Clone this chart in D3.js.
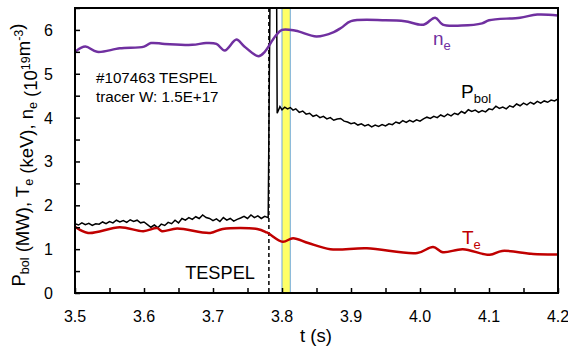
<!DOCTYPE html>
<html>
<head>
<meta charset="utf-8">
<script src="https://cdn.jsdelivr.net/npm/d3@7"></script>
<style>
  body { margin: 0; background: #fff; }
  svg { display: block; font-family: "Liberation Sans", Arial, sans-serif; }
</style>
</head>
<body>
<div class="d3"><svg></svg></div>
<script>
// axis ranges and ticks
var xDomain = [3.5, 4.2];
var yDomain = [0, 6.5];
var xTicks = [3.5, 3.6, 3.7, 3.8, 3.9, 4.0, 4.1, 4.2];
var yTicks = [0, 1, 2, 3, 4, 5, 6];

// TESPEL injection time and analysis window
var tespelTime = 3.781;
var bandRange = [3.800, 3.812];

// electron density n_e (10^19 m^-3)
var neTime = [3.500, 3.515, 3.532, 3.565, 3.600, 3.610, 3.630, 3.670, 3.690, 3.705, 3.717, 3.734, 3.745, 3.766, 3.775, 3.790, 3.800, 3.820, 3.850, 3.875, 3.886, 3.900, 3.950, 3.978, 4.005, 4.022, 4.033, 4.060, 4.090, 4.100, 4.145, 4.170, 4.200];
var neValue = [5.50, 5.62, 5.50, 5.58, 5.62, 5.70, 5.68, 5.66, 5.70, 5.68, 5.53, 5.78, 5.63, 5.40, 5.50, 5.85, 6.00, 5.98, 5.85, 5.95, 6.05, 6.20, 6.22, 6.20, 6.12, 6.28, 6.12, 6.10, 6.15, 6.22, 6.28, 6.35, 6.33];

// electron temperature T_e (keV)
var teTime = [3.500, 3.519, 3.565, 3.599, 3.619, 3.626, 3.648, 3.696, 3.714, 3.764, 3.778, 3.801, 3.816, 3.838, 3.870, 3.923, 3.996, 4.019, 4.033, 4.062, 4.101, 4.119, 4.164, 4.200];
var teValue = [1.51, 1.37, 1.50, 1.41, 1.48, 1.41, 1.47, 1.37, 1.46, 1.46, 1.38, 1.17, 1.25, 1.14, 1.00, 1.02, 0.91, 1.05, 0.93, 1.00, 0.87, 0.96, 0.89, 0.88];

// bolometer power P_bol (MW)
var pbolTime = [
  3.500, 3.505, 3.510, 3.515, 3.520, 3.525, 3.530, 3.535, 3.540, 3.545,
  3.550, 3.555, 3.560, 3.565, 3.570, 3.575, 3.580, 3.585, 3.590, 3.595,
  3.600, 3.605, 3.610, 3.615, 3.620, 3.625, 3.630, 3.635, 3.640, 3.645,
  3.650, 3.655, 3.660, 3.665, 3.670, 3.675, 3.680, 3.685, 3.690, 3.695,
  3.700, 3.705, 3.710, 3.715, 3.720, 3.725, 3.730, 3.735, 3.740, 3.745,
  3.750, 3.755, 3.760, 3.765, 3.770, 3.775, 3.780, 3.783, 3.792, 3.793,
  3.797, 3.800, 3.804, 3.808, 3.812, 3.816, 3.820, 3.825, 3.830, 3.835,
  3.840, 3.845, 3.850, 3.855, 3.860, 3.865, 3.870, 3.875, 3.880, 3.885,
  3.890, 3.895, 3.900, 3.905, 3.910, 3.915, 3.920, 3.925, 3.930, 3.935,
  3.940, 3.945, 3.950, 3.955, 3.960, 3.965, 3.970, 3.975, 3.980, 3.985,
  3.990, 3.995, 4.000, 4.005, 4.010, 4.015, 4.020, 4.025, 4.030, 4.035,
  4.040, 4.045, 4.050, 4.055, 4.060, 4.065, 4.070, 4.075, 4.080, 4.085,
  4.090, 4.095, 4.100, 4.105, 4.110, 4.115, 4.120, 4.125, 4.130, 4.135,
  4.140, 4.145, 4.150, 4.155, 4.160, 4.165, 4.170, 4.175, 4.180, 4.185,
  4.190, 4.195, 4.200];
var pbolValue = [
  1.58, 1.55, 1.60, 1.56, 1.59, 1.54, 1.58, 1.57, 1.62, 1.58,
  1.63, 1.60, 1.66, 1.62, 1.65, 1.61, 1.67, 1.63, 1.66, 1.60,
  1.62, 1.56, 1.50, 1.55, 1.49, 1.57, 1.54, 1.61, 1.58, 1.66,
  1.60, 1.70, 1.66, 1.72, 1.68, 1.74, 1.70, 1.78, 1.72, 1.70,
  1.65, 1.69, 1.63, 1.72, 1.66, 1.70, 1.64, 1.68, 1.71, 1.75,
  1.70, 1.78, 1.72, 1.76, 1.70, 1.75, 1.72, 7.50, 7.50, 4.10,
  4.25, 4.18, 4.24, 4.20, 4.23, 4.17, 4.20, 4.12, 4.15, 4.08,
  4.10, 4.03, 4.06, 4.00, 4.03, 3.97, 4.00, 3.94, 3.97, 3.98,
  3.92, 3.90, 3.86, 3.88, 3.83, 3.86, 3.81, 3.84, 3.79, 3.83,
  3.80, 3.84, 3.81, 3.86, 3.84, 3.90, 3.87, 3.93, 3.89, 3.94,
  3.90, 3.95, 3.92, 3.97, 4.01, 3.98, 4.03, 4.00, 4.06, 4.02,
  4.08, 4.04, 4.10, 4.07, 4.14, 4.10, 4.18, 4.14, 4.17, 4.12,
  4.16, 4.13, 4.20, 4.18, 4.26, 4.21, 4.24, 4.20, 4.27, 4.24,
  4.31, 4.27, 4.33, 4.29, 4.35, 4.31, 4.37, 4.33, 4.38, 4.35,
  4.40, 4.38, 4.43];

var width = 568, height = 351;
var margin = { top: 8, right: 10, bottom: 58, left: 75 };
var w = width - margin.left - margin.right;
var h = height - margin.top - margin.bottom;

var svg = d3.select("svg")
    .attr("width", width)
    .attr("height", height);

svg.append("rect").attr("width", width).attr("height", height).attr("fill", "#fff");

var g = svg.append("g")
    .attr("transform", "translate(" + margin.left + "," + margin.top + ")");

var x = d3.scaleLinear().domain(xDomain).range([0, w]);
var y = d3.scaleLinear().domain(yDomain).range([h, 0]);

g.append("clipPath").attr("id", "plot-clip")
    .append("rect").attr("width", w).attr("height", h);

var plot = g.append("g").attr("clip-path", "url(#plot-clip)");

// yellow analysis window
plot.append("rect")
    .attr("x", x(bandRange[0]))
    .attr("width", x(bandRange[1]) - x(bandRange[0]))
    .attr("y", 0)
    .attr("height", h)
    .attr("fill", "#ffff66")
    .attr("stroke", "#6fa8dc")
    .attr("stroke-width", 1);

// TESPEL injection marker
plot.append("line")
    .attr("x1", x(tespelTime)).attr("x2", x(tespelTime))
    .attr("y1", 0).attr("y2", h)
    .attr("stroke", "#000")
    .attr("stroke-width", 1.5)
    .attr("stroke-dasharray", "4,3");

function series(ts, vs) {
    return ts.map(function (t, i) { return [t, vs[i]]; });
}

var smooth = d3.line()
    .x(function (d) { return x(d[0]); })
    .y(function (d) { return y(d[1]); })
    .curve(d3.curveCatmullRom.alpha(0.5));

var jagged = d3.line()
    .x(function (d) { return x(d[0]); })
    .y(function (d) { return y(d[1]); });

plot.append("path")
    .datum(series(pbolTime, pbolValue))
    .attr("d", jagged)
    .attr("fill", "none")
    .attr("stroke", "#000")
    .attr("stroke-width", 1.5);

plot.append("path")
    .datum(series(teTime, teValue))
    .attr("d", smooth)
    .attr("fill", "none")
    .attr("stroke", "#c00000")
    .attr("stroke-width", 2.5);

plot.append("path")
    .datum(series(neTime, neValue))
    .attr("d", smooth)
    .attr("fill", "none")
    .attr("stroke", "#7030a0")
    .attr("stroke-width", 2.5);

// axes with inward ticks
var xAxis = g.append("g")
    .attr("transform", "translate(0," + h + ")")
    .call(d3.axisBottom(x).tickValues(d3.range(3.5, 4.2001, 0.05)).tickSize(-5).tickFormat(""));
xAxis.selectAll(".tick line").attr("stroke-width", 1.5);

var yAxis = g.append("g")
    .call(d3.axisLeft(y).tickValues(d3.range(0, 6.5001, 0.5)).tickSize(-5).tickFormat(""));
yAxis.selectAll(".tick line").attr("stroke-width", 1.5);
g.selectAll(".domain").remove();

// frame
g.append("rect")
    .attr("width", w).attr("height", h)
    .attr("fill", "none")
    .attr("stroke", "#000")
    .attr("stroke-width", 2);

// tick labels
g.selectAll(".xlab").data(xTicks).enter().append("text")
    .attr("x", function (d) { return x(d); })
    .attr("y", h + 29)
    .attr("text-anchor", "middle")
    .attr("font-size", 16)
    .text(function (d) { return d.toFixed(1); });

g.selectAll(".ylab").data(yTicks).enter().append("text")
    .attr("x", -22)
    .attr("y", function (d) { return y(d) + 6; })
    .attr("text-anchor", "end")
    .attr("font-size", 16)
    .text(function (d) { return d; });

// axis titles
svg.append("text")
    .attr("x", 316).attr("y", 342)
    .attr("text-anchor", "middle")
    .attr("font-size", 18.5)
    .text("t (s)");

var yt = svg.append("text")
    .attr("transform", "translate(25,155) rotate(-90)")
    .attr("text-anchor", "middle")
    .attr("font-size", 18.5);
function sub(el, txt) { el.append("tspan").attr("font-size", 12.5).attr("dy", 4).text(txt); el.append("tspan").attr("dy", -4).text(""); }
function sup(el, txt) { el.append("tspan").attr("font-size", 12.5).attr("dy", -7).text(txt); el.append("tspan").attr("dy", 7).text(""); }
yt.append("tspan").text("P");
sub(yt, "bol");
yt.append("tspan").text(" (MW), T");
sub(yt, "e");
yt.append("tspan").text(" (keV), n");
sub(yt, "e");
yt.append("tspan").text(" (10");
sup(yt, "19");
yt.append("tspan").text("m");
sup(yt, "-3");
yt.append("tspan").text(")");

// annotations
svg.append("text").attr("x", 96).attr("y", 83).attr("font-size", 15.2).text("#107463 TESPEL");
svg.append("text").attr("x", 96).attr("y", 102).attr("font-size", 15.2).text("tracer W: 1.5E+17");
svg.append("text").attr("x", 220).attr("y", 279).attr("text-anchor", "middle").attr("font-size", 18.2).text("TESPEL");

function label(xp, yp, main, s, color) {
    var t = svg.append("text").attr("x", xp).attr("y", yp).attr("font-size", 19).attr("fill", color);
    t.append("tspan").text(main);
    t.append("tspan").attr("font-size", 13).attr("dy", 5).text(s);
}
label(433, 45, "n", "e", "#7030a0");
label(461, 98, "P", "bol", "#000");
label(462, 244, "T", "e", "#c00000");
</script>
</body>
</html>
